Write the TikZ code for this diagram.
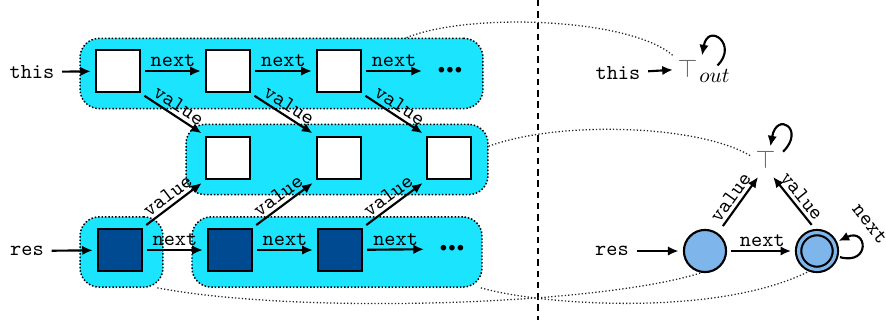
\documentclass[tikz,border=0pt]{standalone}
\usepackage{tikz}
\usetikzlibrary{arrows.meta, positioning}
\definecolor{listCyan}{RGB}{27,228,255}
\definecolor{resBlue}{RGB}{0,74,145}
\definecolor{stateBlue}{RGB}{126,182,236}
\newcommand{\moredots}{\small\textbullet\hspace{-3.2pt}\textbullet\hspace{-3.2pt}\textbullet}
\tikzset{
  cell/.style={draw, line width=1.1pt, fill=white, minimum width=20.4pt, minimum height=20pt, inner sep=0pt},
  rescell/.style={cell, fill=resBlue},
  listgrp/.style={draw, line width=0.7pt, dash pattern=on 0.7pt off 0.9pt, fill=listCyan,
    rounded corners=9pt, minimum height=33pt, inner sep=0pt},
  ptr/.style={line width=1pt, -{Latex[length=5pt, width=4.4pt]}, shorten <=2pt, shorten >=2pt},
  lbl/.style={font=\ttfamily, inner sep=1.5pt},
  topsym/.style={text=black!60, font=\fontsize{13}{15}\selectfont, inner sep=2pt},
  stnode/.style={circle, draw, line width=1pt, fill=stateBlue, minimum size=19.8pt, inner sep=0pt},
  corr/.style={black!85, line width=0.6pt, dash pattern=on 0.6pt off 1pt},
}
\begin{document}
\begin{tikzpicture}[x=0.47pt, y=-0.47pt]
  \useasboundingbox (0,0) rectangle (886,320);

  % list groups
  \node[listgrp, minimum width=189.4pt] (topgrp) at (281.5,73.5) {};
  \node[listgrp, minimum width=141.9pt] (midgrp) at (337,159.5) {};
  \node[listgrp, minimum width=39pt] (resgrpA) at (121.5,252) {};
  \node[listgrp, minimum width=136.3pt] (resgrpB) at (337,252) {};

  % this
  \node[lbl] (this) at (32,72) {this};
  \node[cell] (t1) at (118,71) {};
  \node[cell] (t2) at (228,71) {};
  \node[cell] (t3) at (339,71) {};
  \node (tdots) at (450,71) {\moredots};
  \draw[ptr] (this) -- (t1);
  \draw[ptr] (t1) -- node[lbl, above] {next} (t2);
  \draw[ptr] (t2) -- node[lbl, above] {next} (t3);
  \draw[ptr] (t3) -- node[lbl, above] {next} (tdots);

  % values
  \node[cell] (m1) at (228,158) {};
  \node[cell] (m2) at (339,158) {};
  \node[cell] (m3) at (449,158) {};
  \draw[ptr] (t1.south east) -- node[lbl, sloped, above] {value} (m1.north west);
  \draw[ptr] (t2.south east) -- node[lbl, sloped, above] {value} (m2.north west);
  \draw[ptr] (t3.south east) -- node[lbl, sloped, above] {value} (m3.north west);

  % res
  \node[lbl] (res) at (27,251) {res};
  \node[rescell] (r1) at (120,250) {};
  \node[rescell] (r2) at (230,250) {};
  \node[rescell] (r3) at (340,250) {};
  \node (rdots) at (452,249) {\moredots};
  \draw[ptr] (res) -- (r1);
  \draw[ptr] (r1) -- node[lbl, above] {next} (r2);
  \draw[ptr] (r2) -- node[lbl, above] {next} (r3);
  \draw[ptr] (r3) -- node[lbl, above] {next} (rdots);
  \draw[ptr] (r1.north east) -- node[lbl, sloped, above] {value} (m1.south west);
  \draw[ptr] (r2.north east) -- node[lbl, sloped, above] {value} (m2.south west);
  \draw[ptr] (r3.north east) -- node[lbl, sloped, above] {value} (m3.south west);

  \draw[line width=1.3pt, dash pattern=on 3pt off 2.3pt] (538,0) -- (538,320);

  % abstract side
  \node[lbl] (thisR) at (618,73) {this};
  \node[topsym] (tout) at (687.5,69) {$\top$};
  \node[anchor=base west, inner sep=0pt] (toutsub) at (699,82) {$out$};
  \draw[ptr, shorten >=0pt] (thisR) -- (tout);
  \draw[ptr, shorten >=0pt] (toutsub.north) to[out=45, in=80, distance=16pt] (tout.north east);

  \node[topsym] (tmid) at (765.5,160) {$\top$};
  \draw[ptr, shorten >=0pt] (tmid.20) to[out=45, in=80, distance=17pt] (tmid.70);

  \node[lbl] (resR) at (612,251) {res};
  \node[stnode] (q1) at (705,251) {};
  \node[stnode, double=stateBlue, double distance=1.5pt, minimum size=17.3pt] (q2) at (817,251) {};
  \draw[ptr] (resR) -- (q1);
  \draw[ptr, shorten >=3pt] (q1) -- node[lbl, above] {next} (q2);
  \draw[ptr, shorten <=4pt] (q1) -- node[lbl, sloped, above] {value} (tmid.-110);
  \draw[ptr, shorten <=4pt] (q2.north) -- node[lbl, sloped, above] {value} (tmid.-70);
  \draw[ptr] (q2) to[out=-15, in=25, distance=17pt] (q2);
  \node[lbl, rotate=-52] (q2next) at (870,224) {next};

  % correspondences
  \draw[corr] (topgrp.16) .. controls (470,12) and (630,18) .. (tout.north west);
  \draw[corr] (midgrp.5) .. controls (560,120) and (700,125) .. (tmid.165);
  \draw[corr] (resgrpA.-45) .. controls (300,315) and (600,305) .. (q1.-100);
  \draw[corr] (resgrpB.-14) .. controls (540,305) and (720,318) .. (q2.-105);
\end{tikzpicture}
\end{document}
